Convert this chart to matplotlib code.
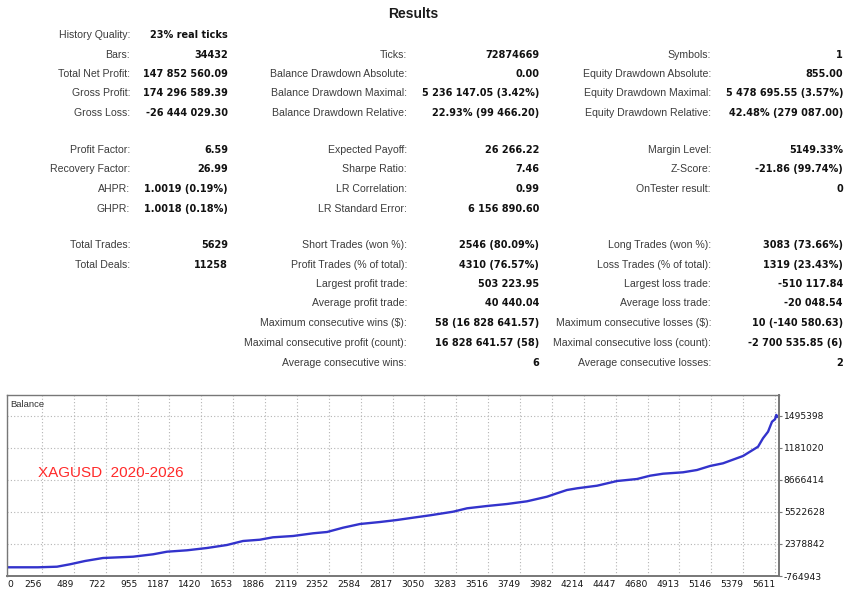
import matplotlib
matplotlib.use("Agg")
import matplotlib.pyplot as plt

# ---- data: report table ----
row_y = [34.5, 54.5, 74, 93.5, 113.5, 150, 169.5, 189, 208.5,
         245, 264.5, 284, 303.5, 323, 342.5, 362.5]

col1_rows = [0, 1, 2, 3, 4, 5, 6, 7, 8, 9, 10]
col1_labels = ["History Quality:", "Bars:", "Total Net Profit:", "Gross Profit:", "Gross Loss:",
               "Profit Factor:", "Recovery Factor:", "AHPR:", "GHPR:",
               "Total Trades:", "Total Deals:"]
col1_values = ["23% real ticks", "34432", "147 852 560.09", "174 296 589.39", "-26 444 029.30",
               "6.59", "26.99", "1.0019 (0.19%)", "1.0018 (0.18%)",
               "5629", "11258"]

col2_rows = [1, 2, 3, 4, 5, 6, 7, 8, 9, 10, 11, 12, 13, 14, 15]
col2_labels = ["Ticks:", "Balance Drawdown Absolute:", "Balance Drawdown Maximal:",
               "Balance Drawdown Relative:", "Expected Payoff:", "Sharpe Ratio:",
               "LR Correlation:", "LR Standard Error:", "Short Trades (won %):",
               "Profit Trades (% of total):", "Largest profit trade:", "Average profit trade:",
               "Maximum consecutive wins ($):", "Maximal consecutive profit (count):",
               "Average consecutive wins:"]
col2_values = ["72874669", "0.00", "5 236 147.05 (3.42%)", "22.93% (99 466.20)",
               "26 266.22", "7.46", "0.99", "6 156 890.60", "2546 (80.09%)",
               "4310 (76.57%)", "503 223.95", "40 440.04", "58 (16 828 641.57)",
               "16 828 641.57 (58)", "6"]

col3_rows = [1, 2, 3, 4, 5, 6, 7, 9, 10, 11, 12, 13, 14, 15]
col3_labels = ["Symbols:", "Equity Drawdown Absolute:", "Equity Drawdown Maximal:",
               "Equity Drawdown Relative:", "Margin Level:", "Z-Score:", "OnTester result:",
               "Long Trades (won %):", "Loss Trades (% of total):", "Largest loss trade:",
               "Average loss trade:", "Maximum consecutive losses ($):",
               "Maximal consecutive loss (count):", "Average consecutive losses:"]
col3_values = ["1", "855.00", "5 478 695.55 (3.57%)", "42.48% (279 087.00)",
               "5149.33%", "-21.86 (99.74%)", "0", "3083 (73.66%)", "1319 (23.43%)",
               "-510 117.84", "-20 048.54", "10 (-140 580.63)", "-2 700 535.85 (6)", "2"]

# ---- data: balance curve (trade number, balance in millions) ----
trade_no = [0, 226, 365, 460, 570, 701, 921, 1067, 1169, 1315, 1461, 1607, 1724, 1848,
            1943, 2090, 2236, 2338, 2455, 2579, 2725, 2849, 2966, 3091, 3259, 3361, 3507,
            3653, 3799, 3945, 4018, 4091, 4165, 4311, 4457, 4603, 4698, 4793, 4939, 5041,
            5136, 5231, 5377, 5428, 5487, 5523, 5560, 5589, 5611, 5620, 5629]
balance = [0.90, 0.90, 1.49, 3.85, 7.09, 10.03, 11.31, 13.67, 16.22, 17.60, 19.86, 22.81,
           26.74, 28.01, 30.37, 31.65, 34.30, 35.58, 39.80, 43.44, 45.40, 47.37, 49.63,
           51.98, 55.52, 58.86, 61.12, 63.09, 65.74, 70.26, 73.60, 76.84, 78.51, 81.06,
           85.68, 87.64, 90.89, 92.85, 94.23, 96.49, 100.42, 103.07, 110.24, 114.47,
           119.38, 127.63, 134.12, 143.94, 146.30, 150.6, 148.9]

x_ticks = [0, 256, 489, 722, 955, 1187, 1420, 1653, 1886, 2119, 2352, 2584, 2817, 3050,
           3283, 3516, 3749, 3982, 4214, 4447, 4680, 4913, 5146, 5379, 5611]
y_ticks = [-7.649435, 23.78842, 55.22628, 86.66414, 118.1020, 149.5398]
y_tick_labels = ["-764943", "2378842", "5522628", "8666414", "1181020", "1495398"]

W, H = 850, 591
plt.rcParams["font.family"] = ["Liberation Sans", "DejaVu Sans"]
fig = plt.figure(figsize=(W / 100, H / 100), dpi=100)
fig.patch.set_facecolor("white")

def px_text(x, y, s, **kw):
    fig.text(x / W, 1 - y / H, s, va="center", **kw)

# title
px_text(413, 14, "Results", ha="center", fontsize=10, fontweight="bold", color="#1a1a1a")

label_kw = dict(ha="right", fontsize=7.6, color="#3c3c3c")
# bold values look closer to Tahoma bold in DejaVu
value_kw = dict(ha="right", fontsize=7.0, fontweight="bold", color="#111111",
                family="DejaVu Sans")

columns = [
    (col1_rows, col1_labels, col1_values, 130, 228),
    (col2_rows, col2_labels, col2_values, 407, 539),
    (col3_rows, col3_labels, col3_values, 711, 843),
]
for rows, labels, values, lx, vx in columns:
    for r, lab, val in zip(rows, labels, values):
        px_text(lx, row_y[r], lab, **label_kw)
        px_text(vx, row_y[r], val, **value_kw)

# ---- balance chart ----
ax = fig.add_axes([7 / W, (H - 576) / H, (779 - 7) / W, (576 - 395) / H])
ax.plot(trade_no, balance, color="#3333cc", linewidth=1.7)
ax.set_xlim(0, 5640)
ax.set_ylim(-7.649435, 170.17)

tick_font = dict(fontsize=6.6, color="#151515", family="DejaVu Sans")
ax.set_xticks(x_ticks)
ax.set_xticklabels([str(t) for t in x_ticks], **tick_font)
for i, lbl in enumerate(ax.get_xticklabels()):
    lbl.set_horizontalalignment("left" if i == 0 else "right")
ax.set_yticks(y_ticks)
ax.set_yticklabels(y_tick_labels, **tick_font)
ax.yaxis.tick_right()
ax.tick_params(axis="x", length=0, pad=3)
ax.tick_params(axis="y", length=2, width=0.8, color="#777777", pad=1.5)

ax.grid(True, linestyle=(0, (1, 2)), color="#b4b4b4", linewidth=0.8)
for name, side in ax.spines.items():
    side.set_color("#777777")
    side.set_linewidth(1.4 if name in ("right", "bottom") else 1.0)

ax.text(0.004, 0.975, "Balance", transform=ax.transAxes, ha="left", va="top",
        fontsize=6.8, color="#333333")
ax.text(0.04, 0.57, "XAGUSD  2020-2026", transform=ax.transAxes, ha="left", va="center",
        fontsize=11, color="#ff2a2a")

fig.savefig("out.png", dpi=100, facecolor="white")
